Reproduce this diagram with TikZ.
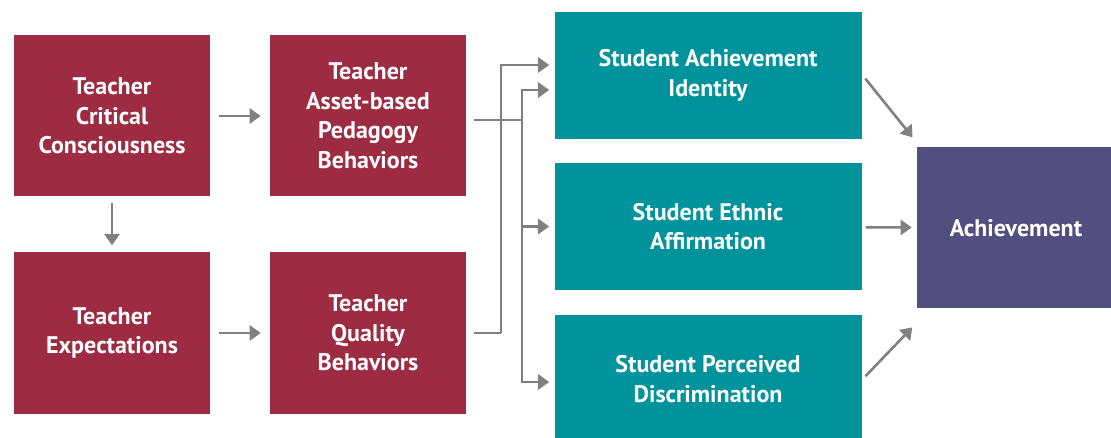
\documentclass[tikz,border=0pt]{standalone}
\usepackage{fontspec}
\setmainfont{PT Sans}
\usetikzlibrary{arrows.meta}

\definecolor{teacherred}{RGB}{157,44,66}
\definecolor{studentteal}{RGB}{0,147,155}
\definecolor{outcomeblue}{RGB}{82,78,127}
\definecolor{arrowgray}{RGB}{128,128,128}

\begin{document}
\begin{tikzpicture}[->,>={Triangle[length=11pt,width=15pt]},x=1pt,y=-1pt,
                    line width=2.6pt,
                    box/.style={rectangle,text=white,align=center,inner sep=0pt,
                                font=\bfseries\fontsize{24}{29.5}\selectfont},
                    teacher node/.style={box,fill=teacherred,minimum width=196pt,minimum height=161pt},
                    student node/.style={box,fill=studentteal,minimum width=307pt,minimum height=127pt},
                    outcome node/.style={box,fill=outcomeblue,minimum width=198pt,minimum height=161pt},
                    link/.style={draw=arrowgray}]

  \useasboundingbox (0,0) rectangle (1111,438);

  \node[teacher node] (tcc) at (112,116) {Teacher\\Critical\\Consciousness};
  \node[teacher node] (tab) [right of=tcc, node distance=256pt] {Teacher\\Asset-based\\Pedagogy\\Behaviors};
  \node[teacher node] (te) [below of=tcc, node distance=217pt] {Teacher\\Expectations};
  \node[teacher node] (tqb) [right of=te, node distance=256pt] {Teacher\\Quality\\Behaviors};

  \node[student node] (sai) at (708,75.5) {Student Achievement\\Identity};
  \node[student node] (sea) [below of=sai, node distance=151pt] {Student Ethnic\\Affirmation};
  \node[student node] (spd) [below of=sea, node distance=152.5pt] {Student Perceived\\Discrimination};

  \node[outcome node] (ach) at (1016,228) {Achievement};

  \coordinate (split) at (522,120);
  \coordinate (riser) at (501,333);

  % teacher side
  \draw[link,shorten <=8pt,shorten >=8pt] (tcc) -- (tab);
  \draw[link,shorten <=5pt,shorten >=6pt] (tcc) -- (te);
  \draw[link,shorten <=8pt,shorten >=8pt] (te) -- (tqb);

  % into the student boxes
  \draw[link,-] ([shift={(7pt,-4pt)}]tab.east) -- (split);
  \draw[link,shorten >=4pt] (split) |- ([yshift=-14.5pt]sai.west);
  \draw[link,shorten >=4pt] (split) |- (sea.west);
  \draw[link,shorten >=4pt] (split) |- ([yshift=-3pt]spd.west);
  \draw[link,-] ([xshift=7pt]tqb.east) -- (riser);
  \draw[link,shorten >=4pt] (riser) |- ([yshift=10.5pt]sai.west);

  % into achievement
  \draw[link,shorten <=4pt,shorten >=5pt] (sai.east) -- ([yshift=5pt]ach.north west);
  \draw[link,shorten <=3pt,shorten >=4pt] (sea) -- (ach);
  \draw[link,shorten <=4pt,shorten >=5pt] (spd.east) -- ([yshift=-14pt]ach.south west);
\end{tikzpicture}
\end{document}
